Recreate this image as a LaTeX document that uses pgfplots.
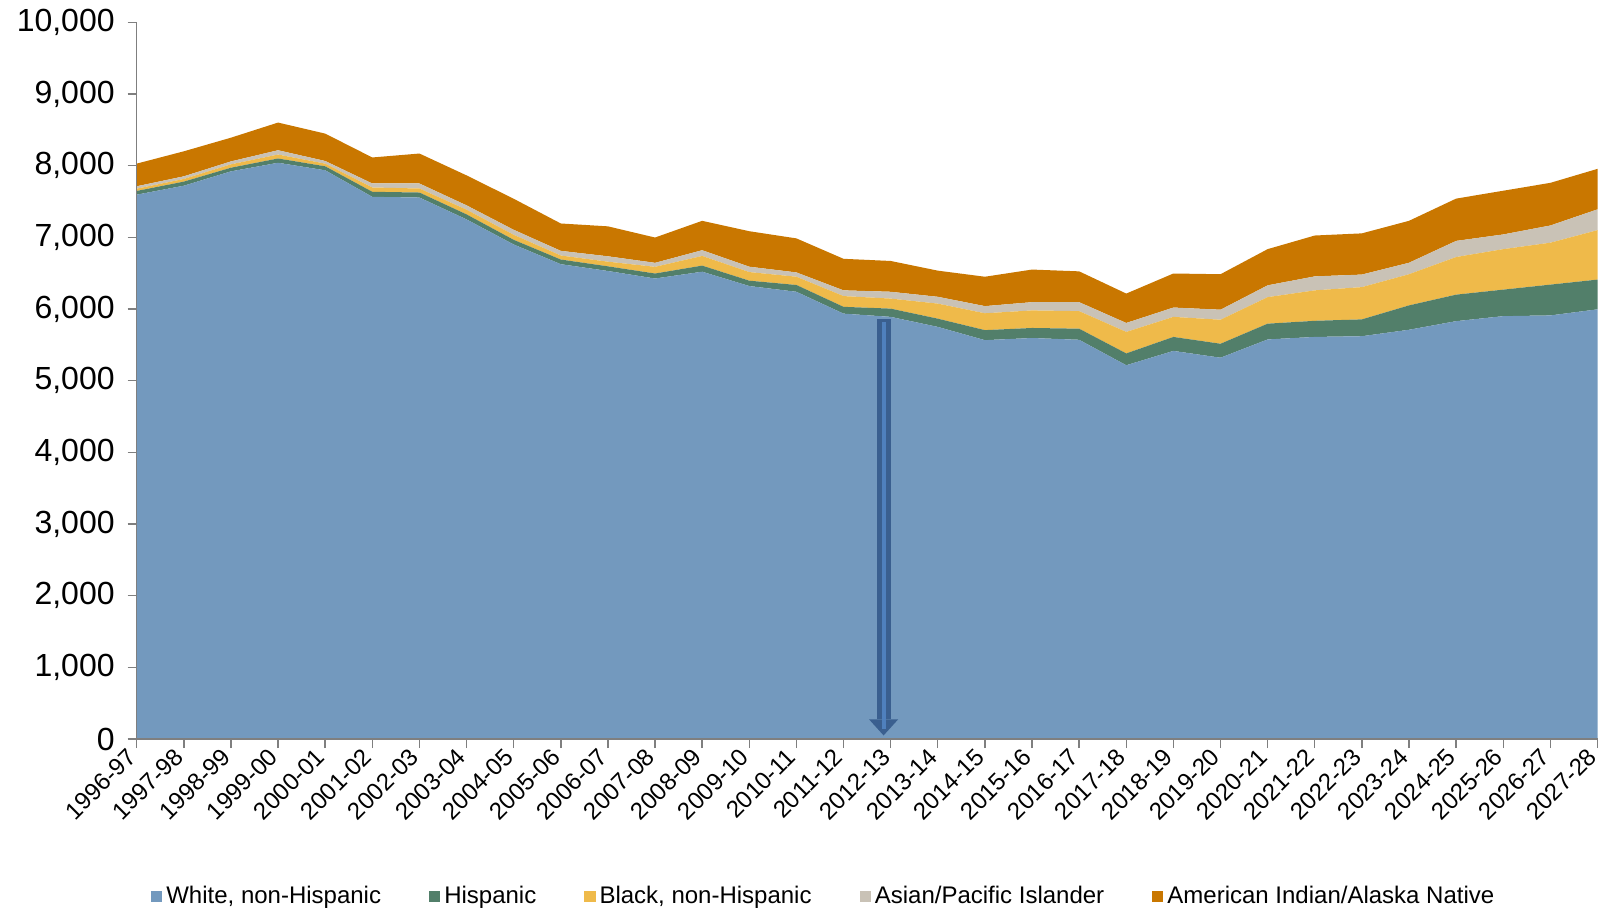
\documentclass[border=0pt]{standalone}
\usepackage{fontspec}
\setmainfont{Liberation Sans}
\usepackage{pgfplots}
\pgfplotsset{compat=1.18}
\usepackage{pgfplotstable}

\definecolor{cWhite}{HTML}{7399BE}
\definecolor{cHisp}{HTML}{527F6A}
\definecolor{cBlack}{HTML}{EFBA4A}
\definecolor{cAsian}{HTML}{C9C2B6}
\definecolor{cAIAN}{HTML}{C97700}
\definecolor{arrowdark}{HTML}{3A5F8F}
\definecolor{arrowlight}{HTML}{4F80BD}
\definecolor{axgray}{HTML}{7F7F7F}

% enrollment by race/ethnicity, stacked
\pgfplotstableread{
x W H B A I
0 7595 52 32 33 316
1 7720 57 37 37 349
2 7920 51 47 41 331
3 8040 60 55 60 386
4 7935 56 37 37 382
5 7565 70 60 56 363
6 7555 70 56 70 418
7 7250 70 65 61 418
8 6900 65 70 70 433
9 6625 65 56 65 382
10 6530 65 65 75 418
11 6425 70 93 56 353
12 6520 85 135 80 410
13 6320 75 120 75 495
14 6240 95 115 60 475
15 5935 95 150 80 440
16 5890 115 140 95 430
17 5750 115 210 95 365
18 5565 140 235 100 410
19 5595 140 245 115 455
20 5570 155 245 125 430
21 5215 165 300 125 410
22 5415 195 280 130 475
23 5320 195 335 140 495
24 5575 220 370 165 505
25 5610 225 425 195 570
26 5620 235 450 175 575
27 5710 340 435 160 585
28 5830 370 525 225 590
29 5900 370 565 205 610
30 5910 430 585 240 595
31 5995 415 690 290 565
}\enrol

\begin{document}
\begin{tikzpicture}
\useasboundingbox (-68.35pt,-84pt) rectangle (735.65pt,369.5pt);
\begin{axis}[
  at={(0,0)}, anchor=south west,
  scale only axis, width=730.4pt, height=358.35pt,
  xmin=0, xmax=31, ymin=0, ymax=10000,
  stack plots=y,
  axis on top,
  axis x line*=bottom, axis y line*=left,
  axis line style={draw=axgray, line width=0.7pt},
  tick style={draw=axgray, line width=0.7pt},
  tick align=outside, major tick length=4.5pt,
  xtick={0,...,31},
  xticklabels={1996-97,1997-98,1998-99,1999-00,2000-01,2001-02,2002-03,2003-04,2004-05,2005-06,2006-07,2007-08,2008-09,2009-10,2010-11,2011-12,2012-13,2013-14,2014-15,2015-16,2016-17,2017-18,2018-19,2019-20,2020-21,2021-22,2022-23,2023-24,2024-25,2025-26,2026-27,2027-28},
  xticklabel style={rotate=45, anchor=east, font=\fontsize{12}{14}\selectfont},
  ytick={0,1000,...,10000},
  yticklabel style={font=\fontsize{16}{18}\selectfont, xshift=-3pt},
  /pgf/number format/assume math mode=true,
  /pgf/number format/1000 sep={,},
  scaled y ticks=false,
  legend columns=5,
  legend style={at={(0.471,-0.22)}, anchor=center, draw=none, fill=none,
    font=\fontsize{12}{14}\selectfont,
    /tikz/every even column/.append style={column sep=22pt}},
  legend image code/.code={\fill[#1] (0pt,-2.8pt) rectangle (5.6pt,2.8pt);},
  legend cell align=left,
]
\addplot[fill=cWhite, draw=none] table[x=x, y=W] {\enrol} \closedcycle;
\addlegendentry{White, non-Hispanic}
\addplot[fill=cHisp, draw=none] table[x=x, y=H] {\enrol} \closedcycle;
\addlegendentry{Hispanic}
\addplot[fill=cBlack, draw=none] table[x=x, y=B] {\enrol} \closedcycle;
\addlegendentry{Black, non-Hispanic}
\addplot[fill=cAsian, draw=none] table[x=x, y=A] {\enrol} \closedcycle;
\addlegendentry{Asian/Pacific Islander}
\addplot[fill=cAIAN, draw=none] table[x=x, y=I] {\enrol} \closedcycle;
\addlegendentry{American Indian/Alaska Native}

\coordinate (atop) at (axis cs:15.85,5860);
\coordinate (abot) at (axis cs:15.85,50);
\end{axis}
% block arrow marking 2012-13
\fill[arrowdark] ([xshift=-3.5pt]atop) rectangle ([xshift=3.5pt,yshift=8pt]abot);
\fill[arrowdark] (abot) -- ([xshift=-7.25pt,yshift=8pt]abot) -- ([xshift=7.25pt,yshift=8pt]abot) -- cycle;
\fill[arrowlight] ([xshift=-1pt,yshift=-1.5pt]atop) rectangle ([xshift=1pt,yshift=3pt]abot);
\end{tikzpicture}
\end{document}
